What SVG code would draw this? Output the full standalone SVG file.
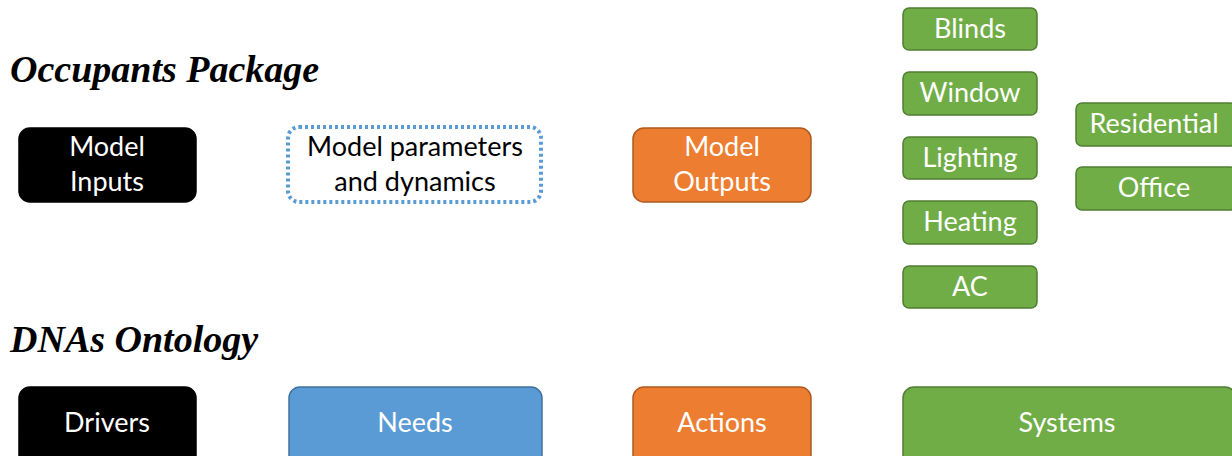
<svg xmlns="http://www.w3.org/2000/svg" width="1232" height="456" viewBox="0 0 1232 456">
<style>
.t{font-family:Lato,"Open Sans","Liberation Sans",sans-serif;font-size:27px;text-anchor:middle;fill:#fff}
.d{fill:#000}
.h{font-family:"Liberation Serif",serif;font-weight:bold;font-style:italic;font-size:38px;fill:#000}
.g{fill:#70ad47;stroke:#507e32;stroke-width:1.5}
.o{fill:#ed7d31;stroke:#ae5a21;stroke-width:1.5}
.b{fill:#5b9bd5;stroke:#41719c;stroke-width:1.5}
.k{fill:#000;stroke:#000;stroke-width:1.5}
</style>
<rect width="1232" height="456" fill="#fff"/>
<text class="h" x="10" y="82">Occupants Package</text>
<text class="h" x="10" y="352">DNAs Ontology</text>
<g id="model-inputs"><rect class="k" x="19" y="128" width="177" height="74" rx="11"/><text class="t" x="107" y="156">Model</text><text class="t" x="107" y="191">Inputs</text></g>
<g id="model-params"><rect x="288" y="127" width="253" height="75" rx="11" fill="#fff" stroke="#5b9bd5" stroke-width="4" stroke-dasharray="3 3"/><text class="t d" x="415" y="156">Model parameters</text><text class="t d" x="415" y="191">and dynamics</text></g>
<g id="model-outputs"><rect class="o" x="633" y="128" width="178" height="74" rx="11"/><text class="t" x="722" y="156">Model</text><text class="t" x="722" y="191">Outputs</text></g>
<g id="blinds"><rect class="g" x="903" y="8" width="134" height="42" rx="6"/><text class="t" x="970" y="38">Blinds</text></g>
<g id="window"><rect class="g" x="903" y="72" width="134" height="43" rx="6"/><text class="t" x="970" y="102">Window</text></g>
<g id="lighting"><rect class="g" x="903" y="137" width="134" height="42" rx="6"/><text class="t" x="970" y="167">Lighting</text></g>
<g id="heating"><rect class="g" x="903" y="201" width="134" height="43" rx="6"/><text class="t" x="970" y="231">Heating</text></g>
<g id="ac"><rect class="g" x="903" y="266" width="134" height="42" rx="6"/><text class="t" x="970" y="296">AC</text></g>
<g id="residential"><rect class="g" x="1076" y="103" width="160" height="43" rx="6"/><text class="t" x="1154" y="133">Residential</text></g>
<g id="office"><rect class="g" x="1076" y="167" width="160" height="43" rx="6"/><text class="t" x="1154" y="197">Office</text></g>
<g id="drivers"><rect class="k" x="19" y="387" width="177" height="80" rx="11"/><text class="t" x="107" y="432">Drivers</text></g>
<g id="needs"><rect class="b" x="289" y="387" width="253" height="80" rx="11"/><text class="t" x="415" y="432">Needs</text></g>
<g id="actions"><rect class="o" x="633" y="387" width="178" height="80" rx="11"/><text class="t" x="722" y="432">Actions</text></g>
<g id="systems"><rect class="g" x="903" y="387" width="333" height="80" rx="11"/><text class="t" x="1067" y="432">Systems</text></g>
<g id="connectors"></g>
</svg>
